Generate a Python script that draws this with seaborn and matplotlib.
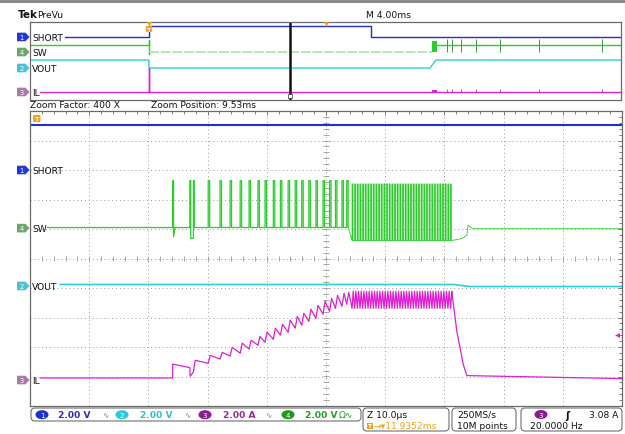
import numpy as np
import matplotlib.pyplot as plt
import seaborn as sns
from matplotlib.patches import Polygon, FancyBboxPatch, Ellipse, Rectangle

# ---- zoom window: time in us (10 us/div), level in divisions ----
short_t = [0, 100]
short_v = [4.53, 4.53]

vout_t = [5.1, 71.5, 74.3, 100]
vout_v = [-0.88, -0.88, -0.95, -0.95]

# SW start-up glitches
sw_start_t = [2.9, 24.1, 24.1, 24.25, 24.25, 24.5, 27.0, 27.0, 27.15, 27.15, 27.6, 27.6, 27.75, 27.75]
sw_start_v = [1.05, 1.05, 2.64, 2.64, 0.74, 1.05, 1.05, 2.64, 2.64, 0.68, 0.68, 2.64, 2.64, 1.05]
# sparse switching pulses
sw_pulse_t = [30.1, 32.1, 33.8, 35.5, 37.0, 38.5, 39.7, 41.1, 42.3, 43.6,
              44.8, 45.9, 47.1, 48.3, 49.5, 50.6, 51.6, 52.7, 53.5]
# dense burst
sw_dense_t = [54.40, 54.85, 55.30, 55.75, 56.20, 56.65, 57.10, 57.55, 58.00, 58.45,
              58.90, 59.35, 59.80, 60.25, 60.70, 61.15, 61.60, 62.05, 62.50, 62.95,
              63.40, 63.85, 64.30, 64.75, 65.20, 65.65, 66.10, 66.55, 67.00, 67.45,
              67.90, 68.35, 68.80, 69.25, 69.70, 70.15, 70.60, 71.05]
sw_tail_t = [71.3, 73.0, 73.8, 74.0, 74.8, 100]
sw_tail_v = [0.61, 0.68, 0.79, 1.13, 1.01, 1.01]
sw_base, sw_top = 1.05, 2.64
sw_dense_base, sw_dense_top = 0.61, 2.53

# IL inductor current
il_start_t = [1.7, 24.1, 24.1, 27.0, 27.05, 27.6, 27.9]
il_start_v = [-4.05, -4.05, -3.58, -3.70, -3.99, -3.85, -3.45]
il_trough = [-3.55, -3.41, -3.31, -3.21, -3.07, -2.94, -2.84, -2.74, -2.60, -2.50,
             -2.36, -2.26, -2.13, -2.03, -1.89, -1.79, -1.69, -1.62, -1.55]
il_peak = [-3.28, -3.18, -3.01, -2.87, -2.77, -2.64, -2.50, -2.36, -2.23, -2.09,
           -1.96, -1.86, -1.72, -1.59, -1.45, -1.35, -1.25, -1.18, -1.15]
il_dense_lo, il_dense_hi = -1.69, -1.11
il_tail_t = [71.3, 72.1, 73.2, 73.8, 100]
il_tail_v = [-1.2, -2.47, -3.6, -3.97, -4.07]

# ground markers (divisions)
main_gnd = {'SHORT': 3.0, 'SW': 1.03, 'VOUT': -0.93, 'IL': -4.12}

# ---- PreVu overview: time in ms (4 ms/div) ----
t_trig = 8.05
t_zoom = 17.6
ov_short_t = [2.4, 8.05, 8.05, 23.08, 23.08, 40]
ov_short_v = [3.08, 3.08, 4.55, 4.55, 3.08, 3.08]
ov_sw_t = [0, 8.05, 8.05, 8.05, 8.05]
ov_sw_v = [2.05, 2.05, 2.73, 0.9, 1.15]
ov_sw_mid_t = [8.05, 27.2]
ov_sw_mid_v = [1.15, 1.15]
ov_sw_burst = (27.2, 27.55, 1.1, 2.6)
ov_sw_end_t = [27.55, 40]
ov_sw_end_v = [2.05, 2.05]
ov_sw_spikes = [28.22, 28.56, 29.17, 30.19, 31.81, 34.45, 38.71]
ov_vout_t = [0, 8.05, 8.05, 27.07, 27.48, 40]
ov_vout_v = [0.13, 0.13, -0.9, -0.9, 0.13, 0.13]
ov_il_t = [0.7, 8.05, 8.05, 8.05, 40]
ov_il_v = [-3.97, -3.97, -0.9, -3.97, -3.97]
ov_gnd = {'SHORT': 3.08, 'SW': 1.15, 'VOUT': -0.9, 'IL': -3.97}

C_SHORT = '#1f2fd2'
C_SW = '#2ccc2c'
C_VOUT = '#28d2dc'
C_IL = '#df1fd2'
C_ORANGE = '#f2a01e'

sns.set_style('white')
plt.rcParams['font.family'] = ['DejaVu Sans']

fig = plt.figure(figsize=(6.25, 4.35), dpi=100)
W, H = 625, 435

def px_axes(x0, y0, x1, y1):
    return fig.add_axes([x0 / W, 1 - y1 / H, (x1 - x0) / W, (y1 - y0) / H])

# ---------- build waveforms ----------
sw_t, sw_v = list(sw_start_t), list(sw_start_v)
for tp in sw_pulse_t:
    sw_t += [tp, tp, tp + 0.25, tp + 0.25]
    sw_v += [sw_base, sw_top, sw_top, sw_base]
sw_dt, sw_dv = [sw_pulse_t[-1] + 0.25], [sw_base]
for tp in sw_dense_t:
    sw_dt += [tp, tp, tp + 0.12, tp + 0.12]
    sw_dv += [sw_dense_base, sw_dense_top, sw_dense_top, sw_dense_base]
sw_dt += sw_tail_t
sw_dv += sw_tail_v

il_t, il_v = list(il_start_t), list(il_start_v)
for tp, lo, hi in zip(sw_pulse_t, il_trough, il_peak):
    il_t += [tp, tp + 0.35]
    il_v += [lo, hi]
for tp in sw_dense_t:
    il_t += [tp, tp + 0.2]
    il_v += [il_dense_lo, il_dense_hi]
il_t += il_tail_t
il_v += il_tail_v

# ---------- overview panel ----------
ax_top = px_axes(30, 23, 621, 101)
lw = 1.0
sns.lineplot(x=ov_short_t, y=ov_short_v, estimator=None, sort=False, color=C_SHORT, lw=lw, ax=ax_top)
sns.lineplot(x=ov_sw_t, y=ov_sw_v, estimator=None, sort=False, color=C_SW, lw=lw, ax=ax_top)
sns.lineplot(x=ov_sw_mid_t, y=ov_sw_mid_v, estimator=None, sort=False, color='#a6e6a6', lw=1.2,
             ls=(0, (6, 1)), ax=ax_top)
sns.lineplot(x=ov_sw_end_t, y=ov_sw_end_v, estimator=None, sort=False, color=C_SW, lw=lw, ax=ax_top)
b0, b1, blo, bhi = ov_sw_burst
ax_top.add_patch(Rectangle((b0, blo), b1 - b0, bhi - blo, color=C_SW, lw=0))
ax_top.vlines(ov_sw_spikes, 1.1, 2.82, color='#3a9a3a', lw=0.7)
ax_top.vlines(ov_sw_spikes, -3.97, -3.6, color=C_IL, lw=0.6)
ax_top.add_patch(Rectangle((b0, -3.97), b1 - b0, 0.3, color=C_IL, lw=0))
sns.lineplot(x=ov_vout_t, y=ov_vout_v, estimator=None, sort=False, color=C_VOUT, lw=lw, ax=ax_top)
sns.lineplot(x=ov_il_t, y=ov_il_v, estimator=None, sort=False, color=C_IL, lw=lw, ax=ax_top)
ax_top.axvline(t_zoom, color='#111111', lw=1.8)
ax_top.set_xlim(0, 40)
ax_top.set_ylim(-5, 5)
ax_top.set_xticks([])
ax_top.set_yticks([])
for s in ax_top.spines.values():
    s.set_color('#6a6a6a')
    s.set_linewidth(0.9)

# ---------- zoom panel ----------
ax = px_axes(30, 112, 622, 407)
grid_kw = dict(color='#9a9a9a', lw=0.7, ls=(0, (1, 3)), zorder=0)
for gx in range(10, 100, 10):
    ax.axvline(gx, **grid_kw)
for gy in range(-4, 5):
    ax.axhline(gy, **grid_kw)
# tick marks on centre lines
cx = np.arange(0, 100.1, 2)
ax.vlines(cx, -0.1, 0.1, color='#9a9a9a', lw=0.6, zorder=0)
cy = np.arange(-5, 5.01, 0.2)
ax.hlines(cy, 49.5, 50.5, color='#9a9a9a', lw=0.6, zorder=0)

sns.lineplot(x=short_t, y=short_v, estimator=None, sort=False, color=C_SHORT, lw=1.5, ax=ax)
ax.fill_between([sw_dense_t[0], sw_dense_t[-1]], sw_dense_base, sw_dense_top, color=C_SW, alpha=0.22, lw=0)
sns.lineplot(x=sw_t, y=sw_v, estimator=None, sort=False, color=C_SW, lw=0.9, ax=ax)
sns.lineplot(x=sw_dt, y=sw_dv, estimator=None, sort=False, color=C_SW, lw=0.6, ax=ax)
sns.lineplot(x=vout_t, y=vout_v, estimator=None, sort=False, color=C_VOUT, lw=1.2, ax=ax)
sns.lineplot(x=il_t, y=il_v, estimator=None, sort=False, color=C_IL, lw=0.9, ax=ax)
ax.set_xlim(0, 100)
ax.set_ylim(-5, 5)
ax.set_xticks(np.arange(0, 101, 10))
ax.set_xticks(cx, minor=True)
ax.set_yticks(np.arange(-5, 6, 1))
ax.set_yticks(cy, minor=True)
ax.tick_params(which='both', direction='in', top=True, right=True, labelbottom=False,
               labelleft=False, color='#6a6a6a', width=0.6)
ax.tick_params(which='major', length=3)
ax.tick_params(which='minor', length=2)
for s in ax.spines.values():
    s.set_color('#6a6a6a')
    s.set_linewidth(0.9)

# ---------- overlay (pixel coordinates) ----------
ov = fig.add_axes([0, 0, 1, 1], zorder=5)
ov.set_xlim(0, W)
ov.set_ylim(H, 0)
ov.axis('off')
ov.patch.set_alpha(0)

FS = 6.6
ov.plot([0, W], [2, 2], color='#8a8a8a', lw=2.2)
ov.text(18, 15, 'Tek', fontsize=7.5, fontweight='bold', va='center', color='#111111')
ov.text(37, 15, 'PreVu', fontsize=FS, va='center', color='#111111')
ov.text(366, 15, 'M 4.00ms', fontsize=FS, va='center', color='#111111')
ov.text(30, 106, 'Zoom Factor: 400 X', fontsize=FS, va='center', color='#111111')
ov.text(151, 106, 'Zoom Position: 9.53ms', fontsize=FS, va='center', color='#111111')


def main_y(v):
    return 112 + (5 - v) * 29.5


def top_y(v):
    return 23 + (5 - v) * 7.8


def top_x(t):
    return 30 + t / 40 * 591


def chan_marker(y, num, color):
    pts = [(17, y - 4.3), (25.5, y - 4.3), (29.5, y), (25.5, y + 4.3), (17, y + 4.3)]
    ov.add_patch(Polygon(pts, closed=True, fc=color, ec='none'))
    ov.text(21.8, y + 0.3, num, color='white', fontsize=4.8, ha='center', va='center')


markers = {'SHORT': ('1', '#2437d8'), 'SW': ('4', '#6aa86a'),
           'VOUT': ('2', '#46c4d4'), 'IL': ('3', '#a87aa8')}
for name, (num, col) in markers.items():
    y = main_y(main_gnd[name])
    chan_marker(y, num, col)
    ov.text(32, y + 0.3, name, fontsize=FS, va='center', color='#111111')
    y = top_y(ov_gnd[name])
    chan_marker(y, num, col)
    ov.text(32, y + 0.3, name, fontsize=FS, va='center', color='#111111')

# trigger markers
tx = top_x(t_trig)
ov.add_patch(FancyBboxPatch((tx - 3.2, 27), 6.4, 6, boxstyle='round,pad=0,rounding_size=1.2',
                            fc=C_ORANGE, ec='none'))
ov.text(tx, 30.3, 'T', fontsize=4.6, color='white', ha='center', va='center', fontweight='bold')
ov.plot([tx], [24.5], marker='v', ms=3.5, color=C_ORANGE, mec='none')
ov.plot([top_x(20)], [24.5], marker='v', ms=3.5, color=C_ORANGE, mec='none')
ov.add_patch(Rectangle((top_x(t_zoom) - 2, 95), 4, 4, fc='white', ec='#333333', lw=0.5))
ov.add_patch(FancyBboxPatch((33, 116), 7.5, 7, boxstyle='round,pad=0,rounding_size=1.2',
                            fc=C_ORANGE, ec='none'))
ov.text(36.8, 119.7, 'T', fontsize=4.6, color='white', ha='center', va='center', fontweight='bold')
ov.plot([617], [336], marker='<', ms=3.5, color=C_IL, mec='none')

# ---------- status bar ----------
box_kw = dict(boxstyle='round,pad=0,rounding_size=4', fc='white', ec='#707070', lw=0.8)
ov.add_patch(FancyBboxPatch((31, 409), 330, 13, **box_kw))
ov.add_patch(FancyBboxPatch((363, 409), 86, 23, **box_kw))
ov.add_patch(FancyBboxPatch((452, 409), 64, 23, **box_kw))
ov.add_patch(FancyBboxPatch((521, 409), 101, 23, **box_kw))


def oval(x, y, num, color):
    ov.add_patch(Ellipse((x, y), 13, 9, fc=color, ec='none'))
    ov.text(x, y + 0.3, num, fontsize=5, color='white', ha='center', va='center')


ys = 415.7
chans = [(42, '1', '#2030d0', '2.00 V', '#2a30b8', 58, 105),
         (122, '2', '#30c8d8', '2.00 V', '#30c0d0', 140, 187),
         (205, '3', '#8e1a8e', '2.00 A', '#9a2a9a', 223, 268),
         (288, '4', '#1e9a1e', '2.00 V', '#24a024', 305, None)]
for ox, num, oc, txt, tc, tx0, ix in chans:
    oval(ox, ys, num, oc)
    ov.text(tx0, ys + 0.3, txt, fontsize=FS, color=tc, va='center', fontweight='semibold')
    if ix is not None:
        ov.text(ix, ys + 0.3, '∿', fontsize=5.5, color='#7a80b0', va='center', ha='center')
ov.text(339, ys + 0.3, 'Ω∿', fontsize=FS, color='#24a024', va='center')

ov.text(367, 415.5, 'Z 10.0µs', fontsize=FS, va='center', color='#111111')
ov.add_patch(Rectangle((367, 423.5), 6, 6.5, fc=C_ORANGE, ec='none'))
ov.text(370, 427, 'T', fontsize=4.4, color='white', ha='center', va='center', fontweight='bold')
ov.text(374, 427, '→▾11.9352ms', fontsize=FS, va='center', color=C_ORANGE)
ov.text(457, 415.5, '250MS/s', fontsize=FS, va='center', color='#111111')
ov.text(457, 427, '10M points', fontsize=FS, va='center', color='#111111')
oval(541, 415.5, '3', '#8e1a8e')
ov.text(567, 415.8, 'ʃ', fontsize=7, va='center', ha='center', color='#111111', fontweight='bold')
ov.text(618, 415.5, '3.08 A', fontsize=FS, va='center', ha='right', color='#111111')
ov.text(530, 427, '20.0000 Hz', fontsize=FS, va='center', color='#111111')

fig.savefig('out.png', dpi=100)
